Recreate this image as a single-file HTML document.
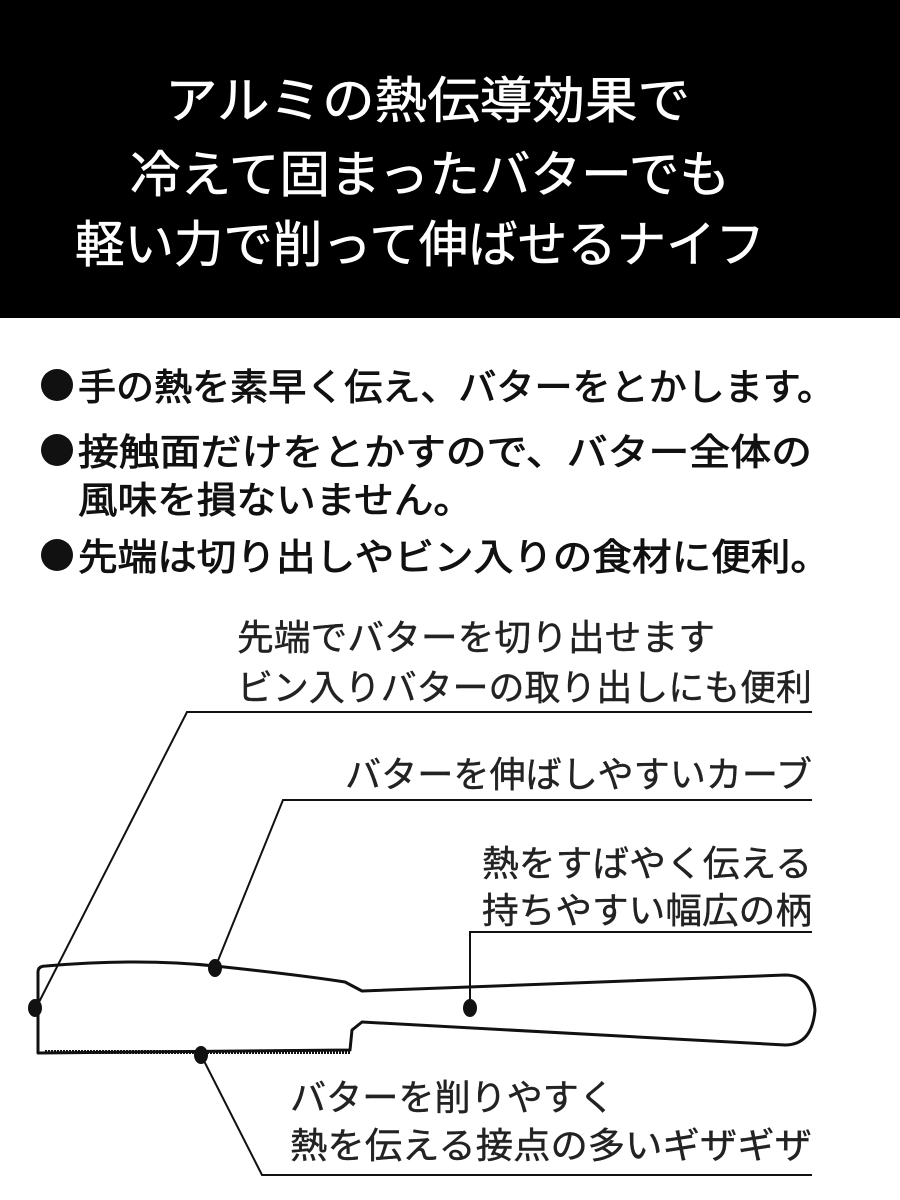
<!DOCTYPE html>
<html><head><meta charset="utf-8"><style>
html,body{margin:0;padding:0;background:#fff;}
svg{display:block;}
text{font-family:"Liberation Sans","Noto Sans CJK JP",sans-serif;}
</style></head><body>
<svg width="900" height="1200" viewBox="0 0 900 1200" xmlns="http://www.w3.org/2000/svg">
<rect x="0" y="0" width="900" height="318" fill="#000"/>
<g fill="#fff" font-size="50" stroke="#fff" stroke-width="0.6">
<text x="165" y="118" textLength="525" lengthAdjust="spacingAndGlyphs">アルミの熱伝導効果で</text>
<text x="130" y="192" textLength="600" lengthAdjust="spacingAndGlyphs">冷えて固まったバターでも</text>
<text x="75" y="262" textLength="690" lengthAdjust="spacingAndGlyphs">軽い力で削って伸ばせるナイフ</text>
</g>
<g fill="#111">
<circle cx="57" cy="385" r="16"/>
<circle cx="57" cy="450" r="16"/>
<circle cx="57" cy="555" r="16"/>
</g>
<g fill="#111" font-size="37" stroke="#111" stroke-width="0.9">
<text x="78" y="400" textLength="757" lengthAdjust="spacingAndGlyphs">手の熱を素早く伝え、バターをとかします。</text>
<text x="78" y="465" textLength="734" lengthAdjust="spacingAndGlyphs">接触面だけをとかすので、バター全体の</text>
<text x="78" y="513" textLength="395" lengthAdjust="spacingAndGlyphs">風味を損ないません。</text>
<text x="78" y="570" textLength="752" lengthAdjust="spacingAndGlyphs">先端は切り出しやビン入りの食材に便利。</text>
</g>
<g fill="#222" font-size="36" stroke="#222" stroke-width="0.4">
<text x="237" y="650" textLength="478" lengthAdjust="spacingAndGlyphs">先端でバターを切り出せます</text>
<text x="237" y="700" textLength="575" lengthAdjust="spacingAndGlyphs">ビン入りバターの取り出しにも便利</text>
<text x="345" y="787" textLength="467" lengthAdjust="spacingAndGlyphs">バターを伸ばしやすいカーブ</text>
<text x="482" y="876" textLength="330" lengthAdjust="spacingAndGlyphs">熱をすばやく伝える</text>
<text x="482" y="923" textLength="330" lengthAdjust="spacingAndGlyphs">持ちやすい幅広の柄</text>
<text x="290" y="1110" textLength="325" lengthAdjust="spacingAndGlyphs">バターを削りやすく</text>
<text x="290" y="1158" textLength="522" lengthAdjust="spacingAndGlyphs">熱を伝える接点の多いギザギザ</text>
</g>
<g stroke="#111" stroke-width="2" fill="none">
<polyline points="812,712 187,712 36,1008"/>
<polyline points="812,800 283,800 215,968"/>
<polyline points="812,932 470,932 470,1008"/>
<polyline points="812,1175 262,1175 201,1055"/>
</g>
<path d="M38,1053 L38,972 Q38,966 46,966 Q140,958 215,966 Q300,975 345,982 L362,991 L785,975 Q812,975 815,1010 Q812,1045 785,1045 L362,1022 L352,1030 L350,1050 L38,1053 Z" fill="none" stroke="#111" stroke-width="3" stroke-linejoin="round"/>
<line x1="45" y1="1052" x2="350" y2="1052" stroke="#111" stroke-width="4" stroke-dasharray="2 1"/>
<g fill="#111">
<ellipse cx="35" cy="1008" rx="7" ry="9"/>
<ellipse cx="215" cy="968" rx="7" ry="9"/>
<ellipse cx="470" cy="1008" rx="7" ry="9"/>
<ellipse cx="201" cy="1055" rx="7" ry="9"/>
</g>
</svg>
</body></html>
